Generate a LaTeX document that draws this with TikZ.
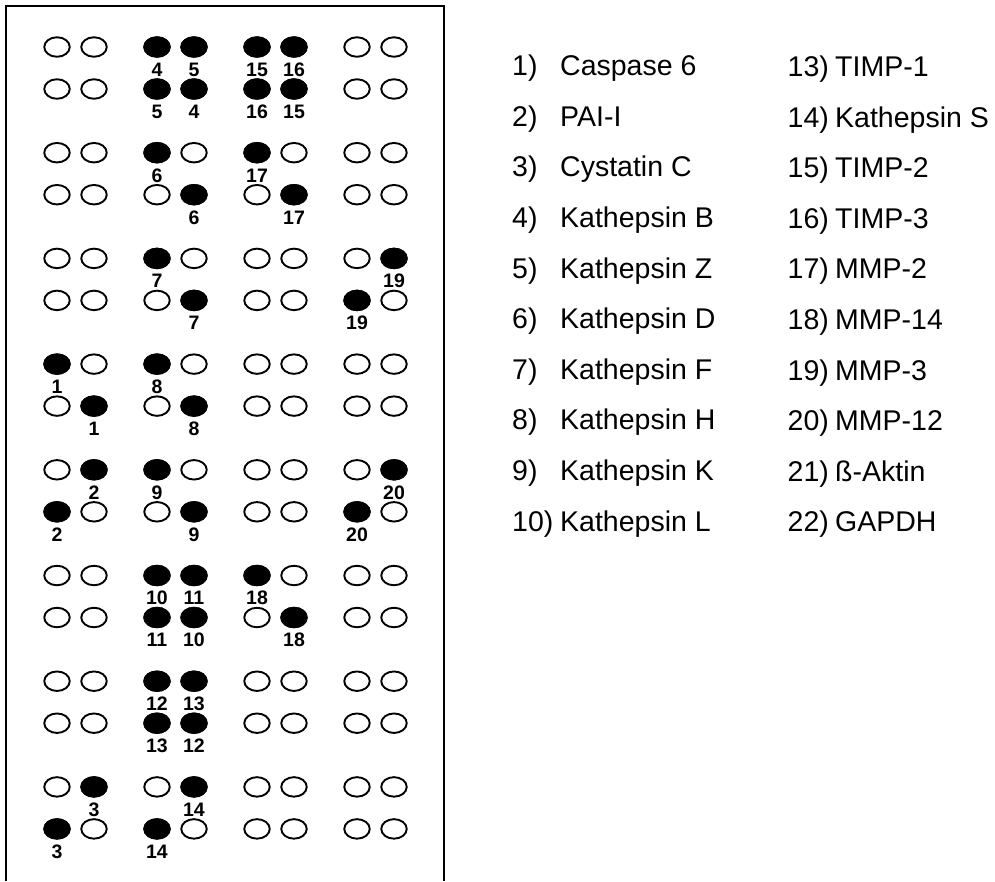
\documentclass[tikz,border=0pt]{standalone}
\usepackage{fontspec}
\setmainfont{Liberation Sans}
\usepackage{tikz}
\usetikzlibrary{positioning,shapes.geometric}

\begin{document}
\begin{tikzpicture}[x=1pt, y=-1pt,
    spot/.style={ellipse, draw=black, line width=1.9pt, minimum width=25.5pt, minimum height=19.5pt, inner sep=0pt},
    hit/.style={spot, fill=black},
    tag/.style={font=\fontsize{19.5}{21}\selectfont\bfseries, inner sep=0pt, text height=14pt, text depth=0pt},
    entry/.style={font=\fontsize{28.5}{30}\selectfont, inner sep=0pt, anchor=base west},
    frame/.style={draw=black, line width=1.9pt}]
    \useasboundingbox (0,0) rectangle (995,881);
    \draw[frame] (6,881) -- (6,6) -- (444,6) -- (444,881);
    \foreach \g in {0,...,7}
      \foreach \r in {0,1}
        \foreach \c/\x in {1/57,2/94,3/157,4/194,5/257,6/294,7/357,8/394}
          \node[spot] (s-\g-\r-\c) at (\x,{47+105.7*\g+42*\r}) {};
    \foreach \g/\r/\c/\t in {0/0/3/4, 0/0/4/5, 0/0/5/15, 0/0/6/16, 0/1/3/5, 0/1/4/4, 0/1/5/16, 0/1/6/15,
        1/0/3/6, 1/0/5/17, 1/1/4/6, 1/1/6/17,
        2/0/3/7, 2/0/8/19, 2/1/4/7, 2/1/7/19,
        3/0/1/1, 3/0/3/8, 3/1/2/1, 3/1/4/8,
        4/0/2/2, 4/0/3/9, 4/0/8/20, 4/1/1/2, 4/1/4/9, 4/1/7/20,
        5/0/3/10, 5/0/4/11, 5/0/5/18, 5/1/3/11, 5/1/4/10, 5/1/6/18,
        6/0/3/12, 6/0/4/13, 6/1/3/13, 6/1/4/12,
        7/0/2/3, 7/0/4/14, 7/1/1/3, 7/1/3/14} {
      \node[hit] (h-\g-\r-\c) at (s-\g-\r-\c) {};
      \node[tag, below=4.5pt of h-\g-\r-\c] (t-\g-\r-\c) {\t};
    }
    \foreach \n/\t [count=\k from 0] in {1/Caspase 6, 2/PAI-I, 3/Cystatin C, 4/Kathepsin B, 5/Kathepsin Z,
        6/Kathepsin D, 7/Kathepsin F, 8/Kathepsin H, 9/Kathepsin K, 10/Kathepsin L} {
      \node[entry] (num-\n) at (512,{75.7+50.6*\k}) {\n)};
      \node[entry] (name-\n) at (560,{75.7+50.6*\k}) {\t};
    }
    \foreach \n/\t [count=\k from 0] in {13/TIMP-1, 14/Kathepsin S, 15/TIMP-2, 16/TIMP-3, 17/MMP-2,
        18/MMP-14, 19/MMP-3, 20/MMP-12, 21/ß-Aktin, 22/GAPDH} {
      \node[entry] (num-\n) at (787.5,{76.5+50.6*\k}) {\n)};
      \node[entry] (name-\n) at (835,{76.5+50.6*\k}) {\t};
    }
\end{tikzpicture}
\end{document}
